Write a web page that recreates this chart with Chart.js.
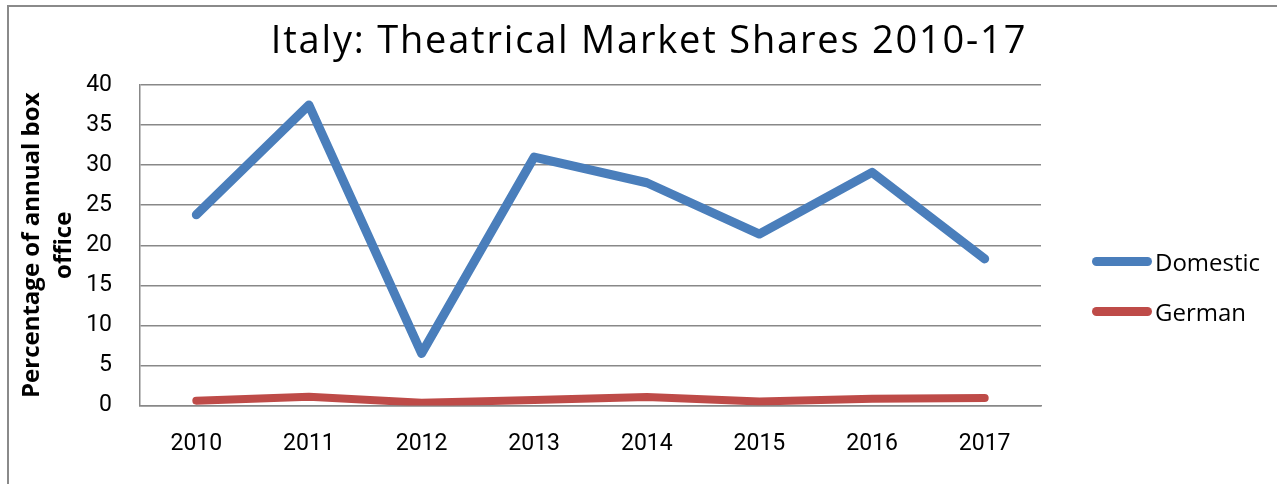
<!DOCTYPE html>
<html>
<head>
<meta charset="utf-8">
<script src="https://cdn.jsdelivr.net/npm/chart.js@4.4.1/dist/chart.umd.min.js"></script>
<style>
    html, body { margin: 0; padding: 0; background: #fff; }
    #wrap { position: relative; width: 1277px; height: 484px; overflow: hidden; font-family: Roboto, sans-serif; }
    #frame { position: absolute; left: 7px; top: 5px; width: 1300px; height: 500px; border-left: 2px solid #8a8a8a; border-top: 2px solid #8a8a8a; }
    #title { position: absolute; left: 0; top: 19px; width: 1298px; text-align: center; font-family: "Open Sans", sans-serif; font-size: 38px; line-height: 38px; letter-spacing: 1.8px; color: #000; white-space: nowrap; }
    #legend { position: absolute; left: 1092px; top: 236px; }
    .item { display: flex; align-items: center; height: 50px; font-family: "Open Sans", sans-serif; font-size: 24px; color: #000; }
    .swatch { width: 60px; height: 9px; border-radius: 5px; margin-right: 3px; }
    canvas { position: absolute; left: 0; top: 0; }
</style>
</head>
<body>
<div id="wrap">
    <div id="frame"></div>
    <canvas id="chart" width="1277" height="484"></canvas>
    <div id="title">Italy: Theatrical Market Shares 2010-17</div>
    <div id="legend"></div>
</div>
<script>
const years = ["2010", "2011", "2012", "2013", "2014", "2015", "2016", "2017"];
const domestic = [23.8, 37.5, 6.5, 31.0, 27.8, 21.4, 29.1, 18.3];
const german = [0.6, 1.1, 0.35, 0.7, 1.05, 0.5, 0.85, 0.95];
const yTicks = [0, 5, 10, 15, 20, 25, 30, 35, 40];

const seriesNames = ["Domestic", "German"];
const seriesColors = ["#4a7ebb", "#be4b48"];

const legend = document.getElementById("legend");
seriesNames.forEach((name, i) => {
    const row = document.createElement("div");
    row.className = "item";
    row.innerHTML = '<span class="swatch" style="background:' + seriesColors[i] + '"></span>' + name;
    legend.appendChild(row);
});

const lineStyle = {
    fill: false,
    tension: 0,
    pointRadius: 0,
    pointHoverRadius: 0,
    borderCapStyle: "round",
    borderJoinStyle: "round",
};

new Chart(document.getElementById("chart"), {
    type: "line",
    data: {
        labels: years,
        datasets: [
            { label: seriesNames[0], data: domestic, borderColor: seriesColors[0], borderWidth: 9, ...lineStyle },
            { label: seriesNames[1], data: german, borderColor: seriesColors[1], borderWidth: 8, ...lineStyle },
        ],
    },
    options: {
        responsive: false,
        animation: false,
        layout: {
            padding: { left: 0, top: 85, right: 236, bottom: 0 },
        },
        plugins: {
            legend: { display: false },
            tooltip: { enabled: false },
        },
        scales: {
            x: {
                offset: true,
                afterFit: (scale) => { scale.height = 78.5; },
                grid: { display: false, drawTicks: false },
                border: { display: true, color: "#888", width: 1.5 },
                ticks: {
                    color: "#000",
                    padding: 25,
                    maxRotation: 0,
                    font: { family: "Roboto", size: 23 },
                },
            },
            y: {
                min: 0,
                max: 40,
                afterFit: (scale) => { scale.width = 140; },
                afterBuildTicks: (scale) => { scale.ticks = yTicks.map((v) => ({ value: v })); },
                grid: { color: "#888", lineWidth: 1.5, drawTicks: false },
                border: { display: true, color: "#888", width: 1.5 },
                ticks: {
                    color: "#000",
                    padding: 28,
                    font: { family: "Roboto", size: 23 },
                },
                title: {
                    display: true,
                    text: ["Percentage of annual box", "office"],
                    color: "#000",
                    padding: { top: 17, bottom: 0 },
                    font: { family: "Open Sans", size: 24, weight: "bold", lineHeight: 1.3 },
                },
            },
        },
    },
});
</script>
</body>
</html>
